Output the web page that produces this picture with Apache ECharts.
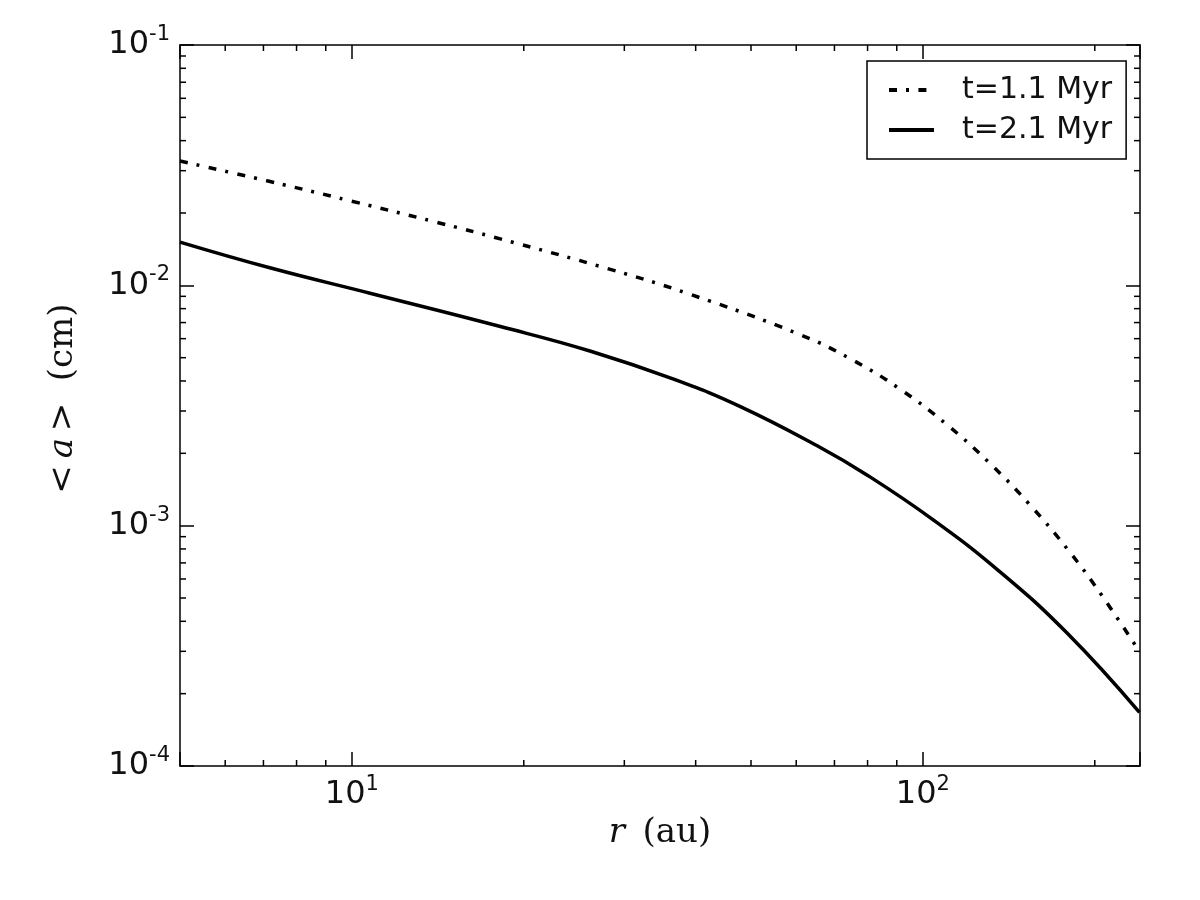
<!DOCTYPE html>
<html>
<head>
<meta charset="utf-8">
<script src="https://cdn.jsdelivr.net/npm/echarts@6/dist/echarts.min.js"></script>
<style>
  html, body { margin: 0; background: #fff; }
  #chart { width: 1200px; height: 900px; }
</style>
</head>
<body>
<div id="chart"></div>
<script>
// t=1.1 Myr (dash-dot)
var r11 = [5.0, 7.13, 10.0, 14.1, 18.2, 28.0, 39.2, 60.9, 75.2, 91.2, 110.2, 131.0, 153.9, 180.7, 206.4, 239.5];
var a11 = [0.0329, 0.02716, 0.02239, 0.01828, 0.0156, 0.01175, 0.00916, 0.00624, 0.0049, 0.0037, 0.00263, 0.001816, 0.001222, 0.000778, 0.000507, 0.000299];
// t=2.1 Myr (solid)
var r21 = [5.0, 7.21, 10.8, 18.2, 26.2, 36.6, 47.9, 66.0, 79.8, 104.1, 136.3, 178.5, 239.5];
var a21 = [0.01513, 0.0118, 0.00925, 0.00674, 0.00532, 0.00407, 0.00313, 0.00212, 0.001626, 0.00106, 0.000644, 0.000359, 0.000167];

var seriesNames = ["t=1.1 Myr", "t=2.1 Myr"];
var xMin = 5, xMax = 240;
var yMin = 1e-4, yMax = 1e-1;
var xMinorTicks = [6, 7, 8, 9, 20, 30, 40, 50, 60, 70, 80, 90, 200];
var yMinorTicks = [
  2e-4, 3e-4, 4e-4, 5e-4, 6e-4, 7e-4, 8e-4, 9e-4,
  2e-3, 3e-3, 4e-3, 5e-3, 6e-3, 7e-3, 8e-3, 9e-3,
  2e-2, 3e-2, 4e-2, 5e-2, 6e-2, 7e-2, 8e-2, 9e-2
];

function zip(xs, ys) {
  return xs.map(function (x, i) { return [x, ys[i]]; });
}

// only label the decades, as 10^n
function decadeLabel(v) {
  var l = Math.log10(v);
  var e = Math.round(l);
  if (Math.abs(l - e) > 1e-6) return "";
  return "{b|10}{s|" + e + "}";
}

var tickFont = "DejaVu Sans";
var mathFont = "DejaVu Serif";
var labelRich = {
  b: { fontFamily: tickFont, fontSize: 32, lineHeight: 42, color: "#111" },
  s: { fontFamily: tickFont, fontSize: 21, lineHeight: 21, verticalAlign: "top", color: "#111" }
};
var nameRich = {
  m: { fontFamily: mathFont, fontSize: 34, color: "#111" },
  i: { fontFamily: mathFont, fontSize: 34, fontStyle: "italic", color: "#111" }
};

var axisLine = { show: true, onZero: false, lineStyle: { color: "#000", width: 1.5 } };
var majorTick = { show: true, inside: true, length: 14, lineStyle: { color: "#000", width: 1.5 } };

var chart = echarts.init(document.getElementById("chart"));
chart.setOption({
  animation: false,
  backgroundColor: "#fff",
  grid: { left: 180, right: 60, top: 45, bottom: 134, outerBoundsMode: "none" },
  legend: {
    orient: "vertical",
    left: 867,
    top: 61,
    padding: [14, 14, 14, 20],
    itemWidth: 45,
    itemHeight: 20,
    itemGap: 10,
    borderColor: "#000",
    borderWidth: 1.5,
    borderRadius: 0,
    itemStyle: { opacity: 0 },
    lineStyle: { width: 4 },
    textStyle: { fontFamily: tickFont, fontSize: 30, lineHeight: 28, color: "#111", padding: [0, 0, 0, 23] },
    data: seriesNames
  },
  xAxis: [
    {
      type: "log", min: xMin, max: xMax, position: "bottom",
      name: "{i|r\u2009}{m| (au)}", nameLocation: "middle", nameGap: 34,
      nameTextStyle: { rich: nameRich },
      axisLine: axisLine, axisTick: majorTick, splitLine: { show: false },
      axisLabel: { margin: 8, formatter: decadeLabel, rich: labelRich }
    },
    {
      type: "log", min: xMin, max: xMax, position: "top",
      axisLine: axisLine, axisTick: majorTick, splitLine: { show: false },
      axisLabel: { show: false }
    }
  ],
  yAxis: [
    {
      type: "log", min: yMin, max: yMax, position: "left",
      name: "{m|<\u2009}{i|a}{m|\u2009>}{m|  (cm)}", nameLocation: "middle", nameGap: 100, nameRotate: 90,
      nameTextStyle: { rich: nameRich, padding: [0, 0, 0, 14] },
      axisLine: axisLine, axisTick: majorTick, splitLine: { show: false },
      axisLabel: { margin: 10, formatter: decadeLabel, rich: labelRich }
    },
    {
      type: "log", min: yMin, max: yMax, position: "right",
      axisLine: axisLine, axisTick: majorTick, splitLine: { show: false },
      axisLabel: { show: false }
    }
  ],
  series: [
    {
      name: seriesNames[0], type: "line", xAxisIndex: 0, yAxisIndex: 0,
      symbol: "none", smooth: 0.45,
      lineStyle: { color: "#000", width: 3.5, type: [8, 9, 3, 9.4] },
      itemStyle: { color: "#000" },
      data: zip(r11, a11)
    },
    {
      name: seriesNames[1], type: "line", xAxisIndex: 0, yAxisIndex: 0,
      symbol: "none", smooth: 0.45,
      lineStyle: { color: "#000", width: 3.5 },
      itemStyle: { color: "#000" },
      data: zip(r21, a21)
    }
  ]
});

// minor ticks at 2..9 of each decade, placed through the axes' own scales
var minorLen = 6;
var gx0 = chart.convertToPixel({ xAxisIndex: 0 }, xMin);
var gx1 = chart.convertToPixel({ xAxisIndex: 0 }, xMax);
var gy0 = chart.convertToPixel({ yAxisIndex: 0 }, yMin);
var gy1 = chart.convertToPixel({ yAxisIndex: 0 }, yMax);
var ticks = [];
function tickLine(x1, y1, x2, y2) {
  ticks.push({
    type: "line", silent: true,
    shape: { x1: x1, y1: y1, x2: x2, y2: y2 },
    style: { stroke: "#000", lineWidth: 1.5 }
  });
}
xMinorTicks.forEach(function (v) {
  var px = chart.convertToPixel({ xAxisIndex: 0 }, v);
  tickLine(px, gy0, px, gy0 - minorLen);
  tickLine(px, gy1, px, gy1 + minorLen);
});
yMinorTicks.forEach(function (v) {
  var py = chart.convertToPixel({ yAxisIndex: 0 }, v);
  tickLine(gx0, py, gx0 + minorLen, py);
  tickLine(gx1, py, gx1 - minorLen, py);
});
chart.setOption({ graphic: ticks });
</script>
</body>
</html>
